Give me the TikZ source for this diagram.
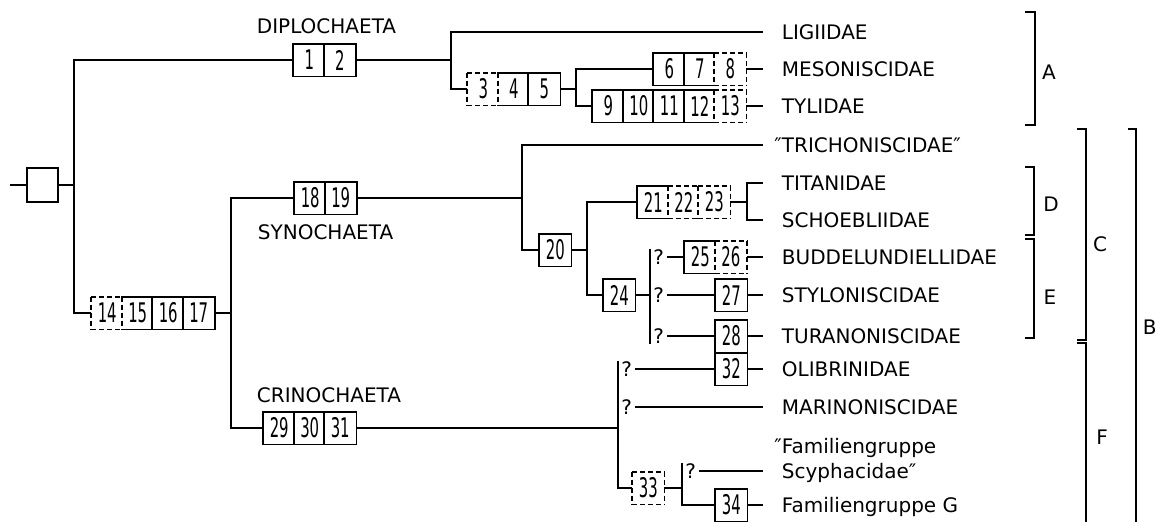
\documentclass[tikz,border=0pt]{standalone}
\usepackage{fontspec}
\setmainfont{DejaVu Sans}
\newfontfamily\boxfont[FakeStretch=0.55]{DejaVu Sans}

\newcommand\labelfont{\fontsize{20}{22}\selectfont}
\newcommand\digitfont{\boxfont\fontsize{27}{30}\selectfont}

\tikzset{
  cell/.style={minimum width=30.5pt, minimum height=31pt, inner sep=0pt, font=\digitfont},
  edgeS/.style={solid, line cap=rect},
  edgeD/.style={dash pattern=on 5pt off 3pt},
  edgeXS/.style={edgeS}, edgeXD/.style={edgeD},
  edgeSS/.style={edgeS}, edgeSD/.style={edgeD},
  edgeDS/.style={edgeD}, edgeDD/.style={edgeD},
  taxon/.style={anchor=west, inner xsep=18pt, inner ysep=0pt, text height=14.6pt, text depth=0pt, font=\labelfont},
  clade/.style={anchor=west, inner sep=0pt, font=\labelfont},
  qmark/.style={anchor=west, inner xsep=2.5pt, inner ysep=0pt, text height=14.6pt, text depth=0pt, font=\labelfont},
  group/.style={inner sep=0pt, font=\labelfont}
}

% a row of numbered character boxes; S = solid, D = dashed
\newcommand\cellrow[3]{%
  \foreach \n/\k [count=\i from 0] in {#3}
    \node[cell] (n\n) at ({#1+15.25+\i*30.5},#2) {\n};
  \foreach \n/\k [remember=\k as \p (initially X)] in {#3} {
    \draw[edge\k] (n\n.north west) -- (n\n.north east) (n\n.south west) -- (n\n.south east);
    \draw[edge\p\k] (n\n.north west) -- (n\n.south west);
    \xdef\lastcell{n\n}\xdef\lastkind{\k}
  }
  \draw[edge\lastkind] (\lastcell.north east) -- (\lastcell.south east);
}

\begin{document}
\begin{tikzpicture}[x=1pt, y=-1pt, line width=1.8pt]
\useasboundingbox (0,0) rectangle (1157,522);

% Root and character boxes
\node[draw, minimum width=31pt, minimum height=34pt, inner sep=0pt] (root) at (42.5,185) {};
\cellrow{294}{60}{1/S, 2/S}
\cellrow{468}{89}{3/D, 4/S, 5/S}
\cellrow{654}{69}{6/S, 7/S, 8/D}
\cellrow{593}{106}{9/S, 10/S, 11/S, 12/S, 13/D}
\cellrow{92}{313}{14/D, 15/S, 16/S, 17/S}
\cellrow{295}{198}{18/S, 19/S}
\cellrow{540}{250}{20/S}
\cellrow{638}{202}{21/S, 22/D, 23/D}
\cellrow{604}{295}{24/S}
\cellrow{685}{257}{25/S, 26/D}
\cellrow{716}{295}{27/S}
\cellrow{716}{336}{28/S}
\cellrow{264}{428}{29/S, 30/S, 31/S}
\cellrow{716}{369}{32/S}
\cellrow{633}{488}{33/D}
\cellrow{716}{505}{34/S}

% Clade names
\node[clade] (diplo) at (256,26.5) {DIPLOCHAETA};
\node[clade] (syno) at (257,232) {SYNOCHAETA};
\node[clade] (crino) at (256,395) {CRINOCHAETA};

% Families
\node[taxon] (ligi) at (763,32) {LIGIIDAE};
\node[taxon] (meso) at (763,69) {MESONISCIDAE};
\node[taxon] (tyli) at (763,106) {TYLIDAE};
\node[taxon] (trich) at (763,145) {\llap{″}TRICHONISCIDAE″};
\node[taxon] (titan) at (763,183) {TITANIDAE};
\node[taxon] (schoeb) at (763,220) {SCHOEBLIIDAE};
\node[taxon] (buddel) at (763,257) {BUDDELUNDIELLIDAE};
\node[taxon] (stylon) at (763,295) {STYLONISCIDAE};
\node[taxon] (turan) at (763,336) {TURANONISCIDAE};
\node[taxon] (olib) at (763,369) {OLIBRINIDAE};
\node[taxon] (marin) at (763,407) {MARINONISCIDAE};
\node[taxon] (famSa) at (763,446) {\llap{″}Familiengruppe};
\node[taxon] (famSb) at (763,471) {Scyphacidae″};
\node[taxon] (famG) at (763,505) {Familiengruppe G};

% Uncertain branches
\node[qmark] (q25) at (650,257) {?};
\node[qmark] (q27) at (650,295) {?};
\node[qmark] (q28) at (650,336) {?};
\node[qmark] (q32) at (618,369) {?};
\node[qmark] (qmar) at (618,407) {?};
\node[qmark] (qscy) at (682,471) {?};

% Branch points
\coordinate (start) at (10,185);
\coordinate (j0) at (74,185);
\coordinate (j1) at (451,60);
\coordinate (j2) at (576,89);
\coordinate (j3) at (231,313);
\coordinate (j4) at (522,198);
\coordinate (j5) at (587,250);
\coordinate (j6) at (747,202);
\coordinate (j8) at (618,428);
\coordinate (j9) at (682,488);

% Tree
\draw (start) -- (root.west);
\draw (root.east) -- (j0);
\draw (j0) |- (n1.west);
\draw (j0) |- (n14.west);
\draw (n2.east) -- (j1);
\draw (j1) |- (ligi.west);
\draw (j1) |- (n3.west);
\draw (n5.east) -- (j2);
\draw (j2) |- (n6.west);
\draw (j2) |- (n9.west);
\draw (n8.east) -- (meso.west);
\draw (n13.east) -- (tyli.west);
\draw (n17.east) -- (j3);
\draw (j3) |- (n18.west);
\draw (j3) |- (n29.west);
\draw (n19.east) -- (j4);
\draw (j4) |- (trich.west);
\draw (j4) |- (n20.west);
\draw (n20.east) -- (j5);
\draw (j5) |- (n21.west);
\draw (j5) |- (n24.west);
\draw (n23.east) -- (j6);
\draw (j6) |- (titan.west);
\draw (j6) |- (schoeb.west);
\draw (n24.east) -- (q27.west);
\draw (q25.north west) -- (q28.south west);
\draw (q25.east) -- (n25.west);
\draw (q27.east) -- (n27.west);
\draw (q28.east) -- (n28.west);
\draw (n26.east) -- (buddel.west);
\draw (n27.east) -- (stylon.west);
\draw (n28.east) -- (turan.west);
\draw (n31.east) -- (j8);
\draw (q32.north west) |- (n33.west);
\draw (q32.east) -- (n32.west);
\draw (n32.east) -- (olib.west);
\draw (qmar.east) -- (marin.west);
\draw (n33.east) -- (j9);
\draw (qscy.north west) |- (n34.west);
\draw (qscy.east) -- (famSb.west);
\draw (n34.east) -- (famG.west);

% Brackets
\draw (1025,12) -- (1035,12) -- (1035,125) -- (1025,125);
\node[group] (grpA) at (1049,72) {A};
\draw (1025,167) -- (1034,167) -- (1034,235) -- (1025,235);
\node[group] (grpD) at (1051,204) {D};
\draw (1025,239) -- (1034,239) -- (1034,338) -- (1025,338);
\node[group] (grpE) at (1050,297) {E};
\draw (1077,129) -- (1086,129) -- (1086,340) -- (1077,340);
\node[group] (grpC) at (1100,244) {C};
\draw (1077,343) -- (1086,343) -- (1086,522);
\node[group] (grpF) at (1102,437) {F};
\draw (1128,129) -- (1136,129) -- (1136,522);
\node[group, anchor=west] (grpB) at (1142,327) {B};

\end{tikzpicture}
\end{document}
